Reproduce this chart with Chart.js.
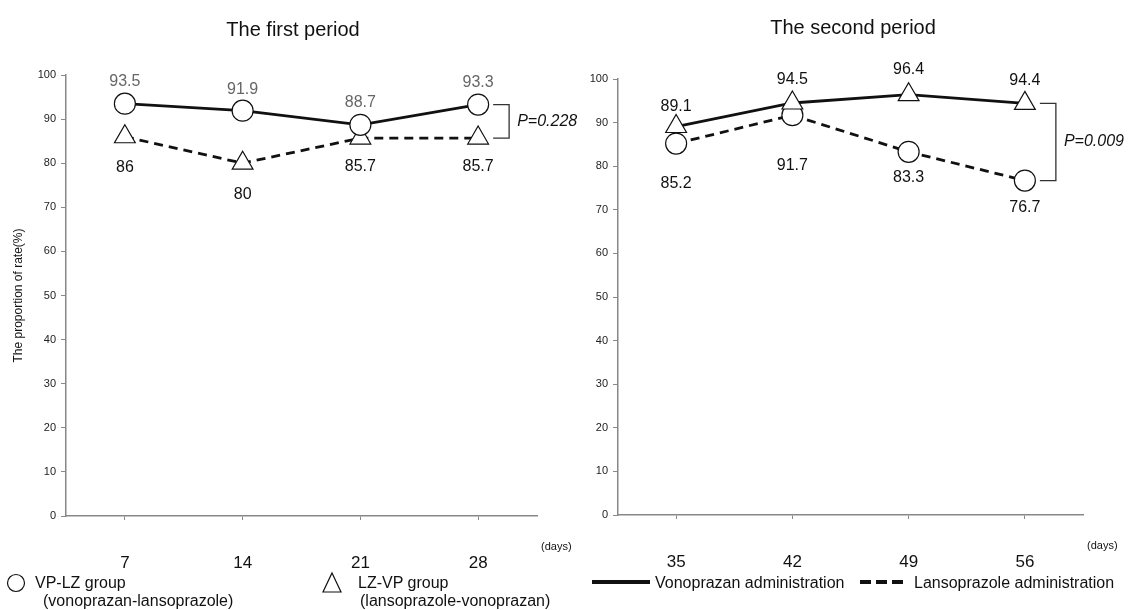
<!DOCTYPE html>
<html>
<head>
<meta charset="utf-8">
<script src="https://cdn.jsdelivr.net/npm/chart.js@4.4.0/dist/chart.umd.min.js"></script>
<style>
  body { margin: 0; background: #fff; font-family: "Liberation Sans", Arial, sans-serif; }
  #wrap { position: relative; width: 1131px; height: 610px; overflow: hidden; }
  .cv { position: absolute; top: 0; }
  .lg { position: absolute; font-size: 16px; color: #111; white-space: nowrap; line-height: 18px; }
  svg { position: absolute; }
</style>
</head>
<body>
<div id="wrap">
  <div class="cv" style="left:0;width:590px;height:580px"><canvas id="first"></canvas></div>
  <div class="cv" style="left:565px;width:566px;height:580px"><canvas id="second"></canvas></div>

  <svg style="left:5px;top:572px" width="22" height="22"><circle cx="11" cy="11" r="8.5" fill="#fff" stroke="#111" stroke-width="1.2"/></svg>
  <div class="lg" style="left:35px;top:574px">VP-LZ group</div>
  <div class="lg" style="left:43px;top:592px">(vonoprazan-lansoprazole)</div>

  <svg style="left:320px;top:571px" width="24" height="23"><polygon points="12,2 21,21 3,21" fill="#fff" stroke="#111" stroke-width="1.2"/></svg>
  <div class="lg" style="left:358px;top:574px">LZ-VP group</div>
  <div class="lg" style="left:360px;top:592px">(lansoprazole-vonoprazan)</div>

  <svg style="left:592px;top:578px" width="60" height="8"><line x1="0" y1="4" x2="58" y2="4" stroke="#111" stroke-width="4"/></svg>
  <div class="lg" style="left:655px;top:574px">Vonoprazan administration</div>
  <svg style="left:860px;top:578px" width="48" height="8"><line x1="0" y1="4" x2="46" y2="4" stroke="#111" stroke-width="4" stroke-dasharray="11,5"/></svg>
  <div class="lg" style="left:914px;top:574px">Lansoprazole administration</div>
</div>
<script>
const days1 = ["7", "14", "21", "28"];
const days2 = ["35", "42", "49", "56"];
const yTicks = [0, 10, 20, 30, 40, 50, 60, 70, 80, 90, 100];

// first period: VP-LZ on vonoprazan (solid), LZ-VP on lansoprazole (dashed)
const vplz1 = [93.5, 91.9, 88.7, 93.3];
const lzvp1 = [86, 80, 85.7, 85.7];
// second period: crossed over
const lzvp2 = [89.1, 94.5, 96.4, 94.4];
const vplz2 = [85.2, 91.7, 83.3, 76.7];

const FONT = "'Liberation Sans', Arial, sans-serif";

// value labels next to each marker
const valueLabels = {
  id: "valueLabels",
  afterDatasetsDraw(chart) {
    const ctx = chart.ctx;
    ctx.save();
    ctx.font = "16px " + FONT;
    ctx.textAlign = "center";
    ctx.textBaseline = "middle";
    chart.data.datasets.forEach((ds, i) => {
      const meta = chart.getDatasetMeta(i);
      meta.data.forEach((pt, j) => {
        ctx.fillStyle = ds.labelColor;
        ctx.fillText(String(ds.data[j]), pt.x, pt.y + ds.labelOffsets[j]);
      });
    });
    ctx.restore();
  }
};

// title, "(days)" and P-value bracket
const extras = {
  id: "extras",
  afterDraw(chart, args, opts) {
    const ctx = chart.ctx;
    const a = chart.chartArea;
    ctx.save();
    ctx.fillStyle = "#111";
    ctx.textBaseline = "middle";
    ctx.textAlign = "center";
    ctx.font = "20px " + FONT;
    ctx.fillText(opts.title, opts.titleX, opts.titleY);

    ctx.font = "11px " + FONT;
    ctx.textAlign = "left";
    ctx.fillText("(days)", a.right + 4, a.bottom + 31);

    const top = chart.getDatasetMeta(0).data[3];
    const bot = chart.getDatasetMeta(1).data[3];
    const y1 = Math.min(top.y, bot.y), y2 = Math.max(top.y, bot.y);
    const x0 = top.x + 15, x1 = x0 + 16;
    ctx.strokeStyle = "#333";
    ctx.lineWidth = 1.3;
    ctx.beginPath();
    ctx.moveTo(x0, y1); ctx.lineTo(x1, y1); ctx.lineTo(x1, y2); ctx.lineTo(x0, y2);
    ctx.stroke();
    ctx.font = "italic 16px " + FONT;
    ctx.fillText(opts.p, x1 + 8, (y1 + y2) / 2);
    ctx.restore();
  }
};

function series(data, dashed, shape, labelColor, labelOffsets) {
  return {
    data: data,
    borderColor: "#111",
    borderWidth: 2.8,
    borderDash: dashed ? [9, 6] : [],
    pointStyle: shape,
    pointRadius: shape === "circle" ? 10.5 : 12,
    pointBackgroundColor: "#fff",
    pointBorderColor: "#111",
    pointBorderWidth: 1.2,
    tension: 0,
    labelColor: labelColor,
    labelOffsets: labelOffsets
  };
}

function makeChart(id, labels, datasets, yWidth, showYTitle, pad, extra) {
  return new Chart(document.getElementById(id), {
    type: "line",
    data: { labels: labels, datasets: datasets },
    options: {
      responsive: true,
      maintainAspectRatio: false,
      animation: false,
      layout: { padding: pad },
      plugins: { legend: { display: false }, tooltip: { enabled: false }, extras: extra },
      scales: {
        x: {
          offset: true,
          grid: { display: true, drawOnChartArea: false, offset: false, tickLength: 4, color: "#888" },
          border: { color: "#888", width: 1.5 },
          ticks: { color: "#111", font: { size: 17, family: FONT }, padding: 33 },
          afterFit(s) { s.height = 60; }
        },
        y: {
          min: 0, max: 100,
          afterBuildTicks(s) { s.ticks = yTicks.map(v => ({ value: v })); },
          grid: { display: true, drawOnChartArea: false, tickLength: 5, color: "#888" },
          border: { color: "#888", width: 1.5 },
          ticks: { color: "#222", font: { size: 11, family: FONT }, padding: 5 },
          title: { display: showYTitle, text: "The proportion of rate(%)", color: "#111",
                   font: { size: 12, family: FONT }, padding: { top: 11, bottom: 0 } },
          afterFit(s) { s.width = yWidth; }
        }
      }
    },
    plugins: [valueLabels, extras]
  });
}

makeChart("first", days1, [
  series(vplz1, false, "circle", "#666", [-22, -21, -22, -22]),
  series(lzvp1, true, "triangle", "#111", [31, 31, 29, 29])
], 66, true, { left: 0, right: 53, top: 75, bottom: 4 },
  { title: "The first period", titleX: 293, titleY: 30, p: "P=0.228" });

makeChart("second", days2, [
  series(lzvp2, false, "triangle", "#111", [-20, -23, -25, -23]),
  series(vplz2, true, "circle", "#111", [40, 50, 26, 27])
], 53, false, { left: 0, right: 48, top: 79, bottom: 5 },
  { title: "The second period", titleX: 288, titleY: 28, p: "P=0.009" });
</script>
</body>
</html>
